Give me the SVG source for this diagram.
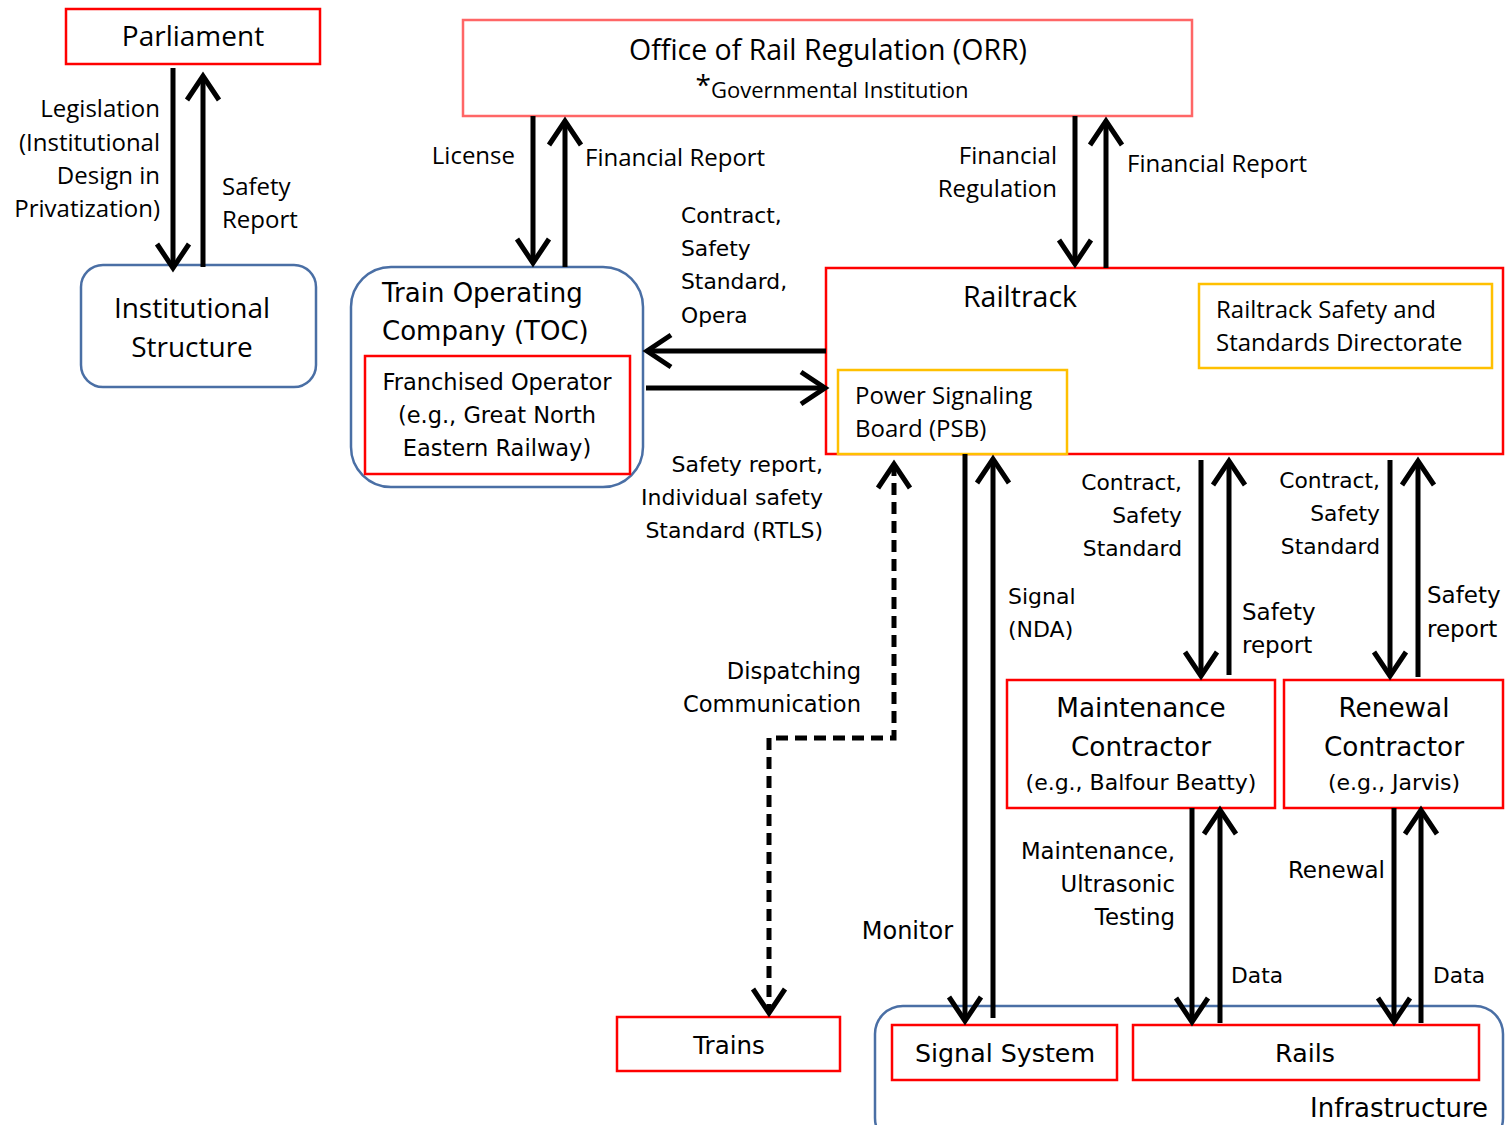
<svg xmlns="http://www.w3.org/2000/svg" width="1505" height="1125" viewBox="0 0 1505 1125">
<defs>
<marker id="ah" markerUnits="userSpaceOnUse" markerWidth="40" markerHeight="40" viewBox="-30 -20 34 40" refX="0" refY="0" orient="auto-start-reverse" overflow="visible">
<path d="M-24,-16 L0,0 L-24,16" fill="none" stroke="#000" stroke-width="5" stroke-linejoin="miter"/>
</marker>
</defs>
<style>
.red{fill:#fff;stroke:#ff0000;stroke-width:2.5}
.pink{fill:#fff;stroke:#ff6666;stroke-width:2.5}
.yel{fill:#fff;stroke:#ffc000;stroke-width:2.5}
.blue{fill:#fff;stroke:#4a6fa5;stroke-width:2.5}
.blueo{fill:none;stroke:#4a6fa5;stroke-width:2.5}
.seg{font-family:"Open Sans","Noto Sans",sans-serif;fill:#000}
.ver{font-family:"DejaVu Sans","Noto Sans",sans-serif;fill:#000}
.c{text-anchor:middle}
.r{text-anchor:end}
.ln{fill:none;stroke:#000;stroke-width:5;marker-end:url(#ah)}
.dash{fill:none;stroke:#000;stroke-width:5;stroke-dasharray:12 7;marker-end:url(#ah);marker-start:url(#ah)}
</style>
<rect width="1505" height="1125" fill="#fff"/>

<g id="infrastructure">
<rect class="blueo" x="875" y="1006" width="628" height="140" rx="28"/>
<text class="ver r" x="1488" y="1117" font-size="26">Infrastructure</text>
</g>

<g id="parliament">
<rect class="red" x="66" y="9" width="254" height="55"/>
<text class="seg c" x="193" y="46" font-size="28">Parliament</text>
</g>

<g id="institutional">
<rect class="blue" x="81" y="265" width="235" height="122" rx="22"/>
<text class="seg c" x="192" y="318" font-size="28">Institutional</text>
<text class="seg c" x="192" y="357" font-size="28">Structure</text>
</g>

<g id="orr">
<rect class="pink" x="463" y="20" width="729" height="96"/>
<text class="seg c" x="828" y="60" font-size="28.5">Office of Rail Regulation (ORR)</text>
<text class="seg c" x="832" y="98" font-size="22"><tspan font-size="28" dy="-3">*</tspan><tspan dy="3">Governmental Institution</tspan></text>
</g>

<g id="toc">
<rect class="blue" x="351" y="267" width="292" height="220" rx="40"/>
<text class="ver" x="382" y="302" font-size="26">Train Operating</text>
<text class="ver" x="382" y="340" font-size="26">Company (TOC)</text>
</g>

<g id="franchised">
<rect class="red" x="365" y="356" width="265" height="118"/>
<text class="ver c" x="497" y="390" font-size="22.5">Franchised Operator</text>
<text class="ver c" x="497" y="423" font-size="22.5">(e.g., Great North</text>
<text class="ver c" x="497" y="456" font-size="22.5">Eastern Railway)</text>
</g>

<g id="railtrack">
<rect class="red" x="826" y="268" width="677" height="186"/>
<text class="seg c" x="1020" y="307" font-size="28.5">Railtrack</text>
</g>

<g id="rssd">
<rect class="yel" x="1199" y="284" width="293" height="84"/>
<text class="seg" x="1216" y="318" font-size="24">Railtrack Safety and</text>
<text class="seg" x="1216" y="351" font-size="24">Standards Directorate</text>
</g>

<g id="psb">
<rect class="yel" x="838" y="370" width="229" height="84"/>
<text class="seg" x="855" y="404" font-size="24">Power Signaling</text>
<text class="seg" x="855" y="437" font-size="24">Board (PSB)</text>
</g>

<g id="maintenance">
<rect class="red" x="1007" y="680" width="268" height="128"/>
<text class="ver c" x="1141" y="717" font-size="26.3">Maintenance</text>
<text class="ver c" x="1141" y="756" font-size="26.3">Contractor</text>
<text class="ver c" x="1141" y="790" font-size="22">(e.g.,  Balfour Beatty)</text>
</g>

<g id="renewal">
<rect class="red" x="1284" y="680" width="219" height="128"/>
<text class="ver c" x="1394" y="717" font-size="26.3">Renewal</text>
<text class="ver c" x="1394" y="756" font-size="26.3">Contractor</text>
<text class="ver c" x="1394" y="790" font-size="22">(e.g., Jarvis)</text>
</g>

<g id="trains">
<rect class="red" x="617" y="1017" width="223" height="54"/>
<text class="ver c" x="729" y="1054" font-size="24.5">Trains</text>
</g>

<g id="signal">
<rect class="red" x="892" y="1025" width="225" height="55"/>
<text class="ver c" x="1005" y="1062" font-size="25.3">Signal System</text>
</g>

<g id="rails">
<rect class="red" x="1133" y="1025" width="346" height="55"/>
<text class="ver c" x="1305" y="1062" font-size="25.3">Rails</text>
</g>

<g id="connectors">
<path class="ln" d="M173,68 L173,268"/>
<path class="ln" d="M203,267 L203,76"/>
<path class="ln" d="M533,116 L533,263"/>
<path class="ln" d="M565,267 L565,121"/>
<path class="ln" d="M1075,116 L1075,264"/>
<path class="ln" d="M1106,268 L1106,121"/>
<path class="ln" d="M826,351 L647,351"/>
<path class="ln" d="M646,388 L825,388"/>
<path class="dash" d="M894,464 L894,738 L769,738 L769,1013"/>
<path class="ln" d="M965,454 L965,1021"/>
<path class="ln" d="M993,1018 L993,459"/>
<path class="ln" d="M1201,460 L1201,676"/>
<path class="ln" d="M1229,675 L1229,461"/>
<path class="ln" d="M1390,460 L1390,676"/>
<path class="ln" d="M1418,677 L1418,461"/>
<path class="ln" d="M1192,808 L1192,1022"/>
<path class="ln" d="M1220,1023 L1220,810"/>
<path class="ln" d="M1394,808 L1394,1022"/>
<path class="ln" d="M1421,1023 L1421,810"/>
</g>

<g id="labels">
<text class="seg r" font-size="24"><tspan x="160" y="117">Legislation</tspan><tspan x="160" y="151">(Institutional</tspan><tspan x="160" y="184">Design in</tspan><tspan x="160" y="217">Privatization)</tspan></text>
<text class="seg" font-size="24"><tspan x="222" y="195">Safety</tspan><tspan x="222" y="228">Report</tspan></text>
<text class="seg r" x="515" y="164" font-size="24">License</text>
<text class="seg" x="585" y="166" font-size="24">Financial Report</text>
<text class="seg r" font-size="24"><tspan x="1057" y="164">Financial</tspan><tspan x="1057" y="197">Regulation</tspan></text>
<text class="seg" x="1127" y="172" font-size="24">Financial Report</text>
<text class="ver" font-size="21.8"><tspan x="681" y="223">Contract,</tspan><tspan x="681" y="256">Safety</tspan><tspan x="681" y="289">Standard,</tspan><tspan x="681" y="323">Opera</tspan></text>
<text class="ver r" font-size="22"><tspan x="823" y="472">Safety report,</tspan><tspan x="823" y="505">Individual safety</tspan><tspan x="823" y="538">Standard (RTLS)</tspan></text>
<text class="ver r" font-size="22.6"><tspan x="861" y="679">Dispatching</tspan><tspan x="861" y="712">Communication</tspan></text>
<text class="ver r" x="953" y="939" font-size="24">Monitor</text>
<text class="ver" font-size="22"><tspan x="1008" y="604">Signal</tspan><tspan x="1008" y="637">(NDA)</tspan></text>
<text class="ver r" font-size="21.8"><tspan x="1182" y="490">Contract,</tspan><tspan x="1182" y="523">Safety</tspan><tspan x="1182" y="556">Standard</tspan></text>
<text class="ver" font-size="23"><tspan x="1242" y="620">Safety</tspan><tspan x="1242" y="653">report</tspan></text>
<text class="ver r" font-size="21.8"><tspan x="1380" y="488">Contract,</tspan><tspan x="1380" y="521">Safety</tspan><tspan x="1380" y="554">Standard</tspan></text>
<text class="ver" font-size="23"><tspan x="1427" y="603">Safety</tspan><tspan x="1427" y="637">report</tspan></text>
<text class="ver r" font-size="22.8"><tspan x="1175" y="859">Maintenance,</tspan><tspan x="1175" y="892">Ultrasonic</tspan><tspan x="1175" y="925">Testing</tspan></text>
<text class="ver" x="1231" y="983" font-size="21.8">Data</text>
<text class="ver r" x="1385" y="878" font-size="23">Renewal</text>
<text class="ver" x="1433" y="983" font-size="21.8">Data</text>
</g>
</svg>
